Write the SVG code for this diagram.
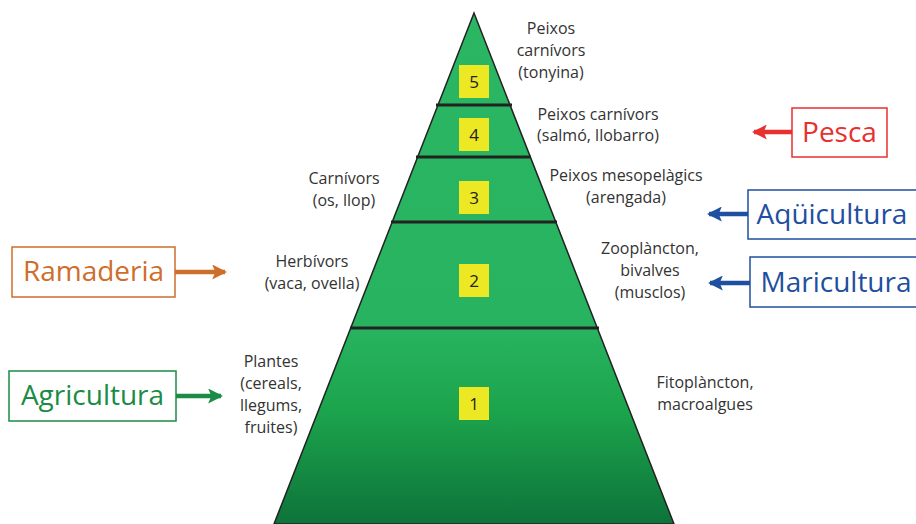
<svg xmlns="http://www.w3.org/2000/svg" width="916" height="524" viewBox="0 0 916 524">
<defs>
<linearGradient id="pg" x1="0" y1="13" x2="0" y2="524" gradientUnits="userSpaceOnUse">
<stop offset="0" stop-color="#2ab662"/>
<stop offset="0.62" stop-color="#27b35f"/>
<stop offset="0.78" stop-color="#1ca44c"/>
<stop offset="1" stop-color="#0d733a"/>
</linearGradient>
<marker id="hr" viewBox="0 0 14 14" refX="12" refY="7" markerWidth="15" markerHeight="15" markerUnits="userSpaceOnUse" orient="auto"><path d="M0,0 L14,7 L0,14 L3,7 Z" fill="#e8302f"/></marker>
<marker id="hb" viewBox="0 0 14 14" refX="12" refY="7" markerWidth="15" markerHeight="15" markerUnits="userSpaceOnUse" orient="auto"><path d="M0,0 L14,7 L0,14 L3,7 Z" fill="#1f4fa0"/></marker>
<marker id="ho" viewBox="0 0 14 14" refX="12" refY="7" markerWidth="15" markerHeight="15" markerUnits="userSpaceOnUse" orient="auto"><path d="M0,0 L14,7 L0,14 L3,7 Z" fill="#cf6d2a"/></marker>
<marker id="hg" viewBox="0 0 14 14" refX="12" refY="7" markerWidth="15" markerHeight="15" markerUnits="userSpaceOnUse" orient="auto"><path d="M0,0 L14,7 L0,14 L3,7 Z" fill="#1b8b45"/></marker>
</defs>
<style>
text{font-family:"Open Sans","Liberation Sans",sans-serif}
.lbl{font-size:16px;fill:#333;text-anchor:middle}
.num{font-size:17px;fill:#222;text-anchor:middle}
.yb{fill:#ede824}
.div{stroke:#222;stroke-width:3}
.box{fill:#fff;stroke-width:1.5}
.big{font-size:28px;text-anchor:middle}
.arr{stroke-width:4.5;fill:none}
</style>
<g id="pyramid">
<path d="M474,13 L274,524 L674,524 Z" fill="url(#pg)" stroke="#222" stroke-width="1.5"/>
<line class="div" x1="436" y1="105" x2="512" y2="105"/>
<line class="div" x1="416" y1="157" x2="531" y2="157"/>
<line class="div" x1="391" y1="222" x2="557" y2="222"/>
<line class="div" x1="350" y1="328" x2="599" y2="328"/>
</g>
<g id="level5"><rect class="yb" x="459" y="65" width="30" height="33"/><text class="num" x="474" y="88">5</text></g>
<g id="level4"><rect class="yb" x="459" y="118" width="30" height="33"/><text class="num" x="474" y="141">4</text></g>
<g id="level3"><rect class="yb" x="459" y="181" width="30" height="33"/><text class="num" x="474" y="204">3</text></g>
<g id="level2"><rect class="yb" x="459" y="264" width="30" height="33"/><text class="num" x="474" y="287">2</text></g>
<g id="level1"><rect class="yb" x="459" y="387" width="30" height="33"/><text class="num" x="474" y="410">1</text></g>
<g id="labels">
<text class="lbl" x="551" y="34">Peixos</text>
<text class="lbl" x="551" y="56">carnívors</text>
<text class="lbl" x="551" y="78">(tonyina)</text>
<text class="lbl" x="598" y="120">Peixos carnívors</text>
<text class="lbl" x="598" y="141">(salmó, llobarro)</text>
<text class="lbl" x="344" y="184">Carnívors</text>
<text class="lbl" x="344" y="206">(os, llop)</text>
<text class="lbl" x="626" y="181">Peixos mesopelàgics</text>
<text class="lbl" x="626" y="203">(arengada)</text>
<text class="lbl" x="312" y="267">Herbívors</text>
<text class="lbl" x="312" y="289">(vaca, ovella)</text>
<text class="lbl" x="650" y="254">Zooplàncton,</text>
<text class="lbl" x="650" y="276">bivalves</text>
<text class="lbl" x="650" y="298">(musclos)</text>
<text class="lbl" x="271" y="367">Plantes</text>
<text class="lbl" x="271" y="389">(cereals,</text>
<text class="lbl" x="271" y="411">llegums,</text>
<text class="lbl" x="271" y="433">fruites)</text>
<text class="lbl" x="705" y="388">Fitoplàncton,</text>
<text class="lbl" x="705" y="410">macroalgues</text>
</g>
<g id="pesca"><rect class="box" x="792" y="108" width="95" height="49" stroke="#e8302f"/><text class="big" x="839.5" y="142" fill="#e8302f">Pesca</text></g>
<g id="aquicultura"><rect class="box" x="748" y="190" width="180" height="49" stroke="#1f4fa0"/><text class="big" x="832" y="224" fill="#1f4fa0">Aqüicultura</text></g>
<g id="maricultura"><rect class="box" x="750" y="257" width="180" height="50" stroke="#1f4fa0"/><text class="big" x="836" y="292" fill="#1f4fa0">Maricultura</text></g>
<g id="ramaderia"><rect class="box" x="12" y="247" width="163" height="50" stroke="#cf6d2a"/><text class="big" x="93.5" y="281" fill="#cf6d2a">Ramaderia</text></g>
<g id="agricultura"><rect class="box" x="9" y="371" width="167" height="50" stroke="#1b8b45"/><text class="big" x="92.5" y="405" fill="#1b8b45">Agricultura</text></g>
<g id="connectors">
<line class="arr" x1="792" y1="132" x2="754" y2="132" stroke="#e8302f" marker-end="url(#hr)"/>
<line class="arr" x1="748" y1="214" x2="709" y2="214" stroke="#1f4fa0" marker-end="url(#hb)"/>
<line class="arr" x1="750" y1="283" x2="710" y2="283" stroke="#1f4fa0" marker-end="url(#hb)"/>
<line class="arr" x1="175" y1="272" x2="225" y2="272" stroke="#cf6d2a" marker-end="url(#ho)"/>
<line class="arr" x1="176" y1="396" x2="221" y2="396" stroke="#1b8b45" marker-end="url(#hg)"/>
</g>
</svg>
